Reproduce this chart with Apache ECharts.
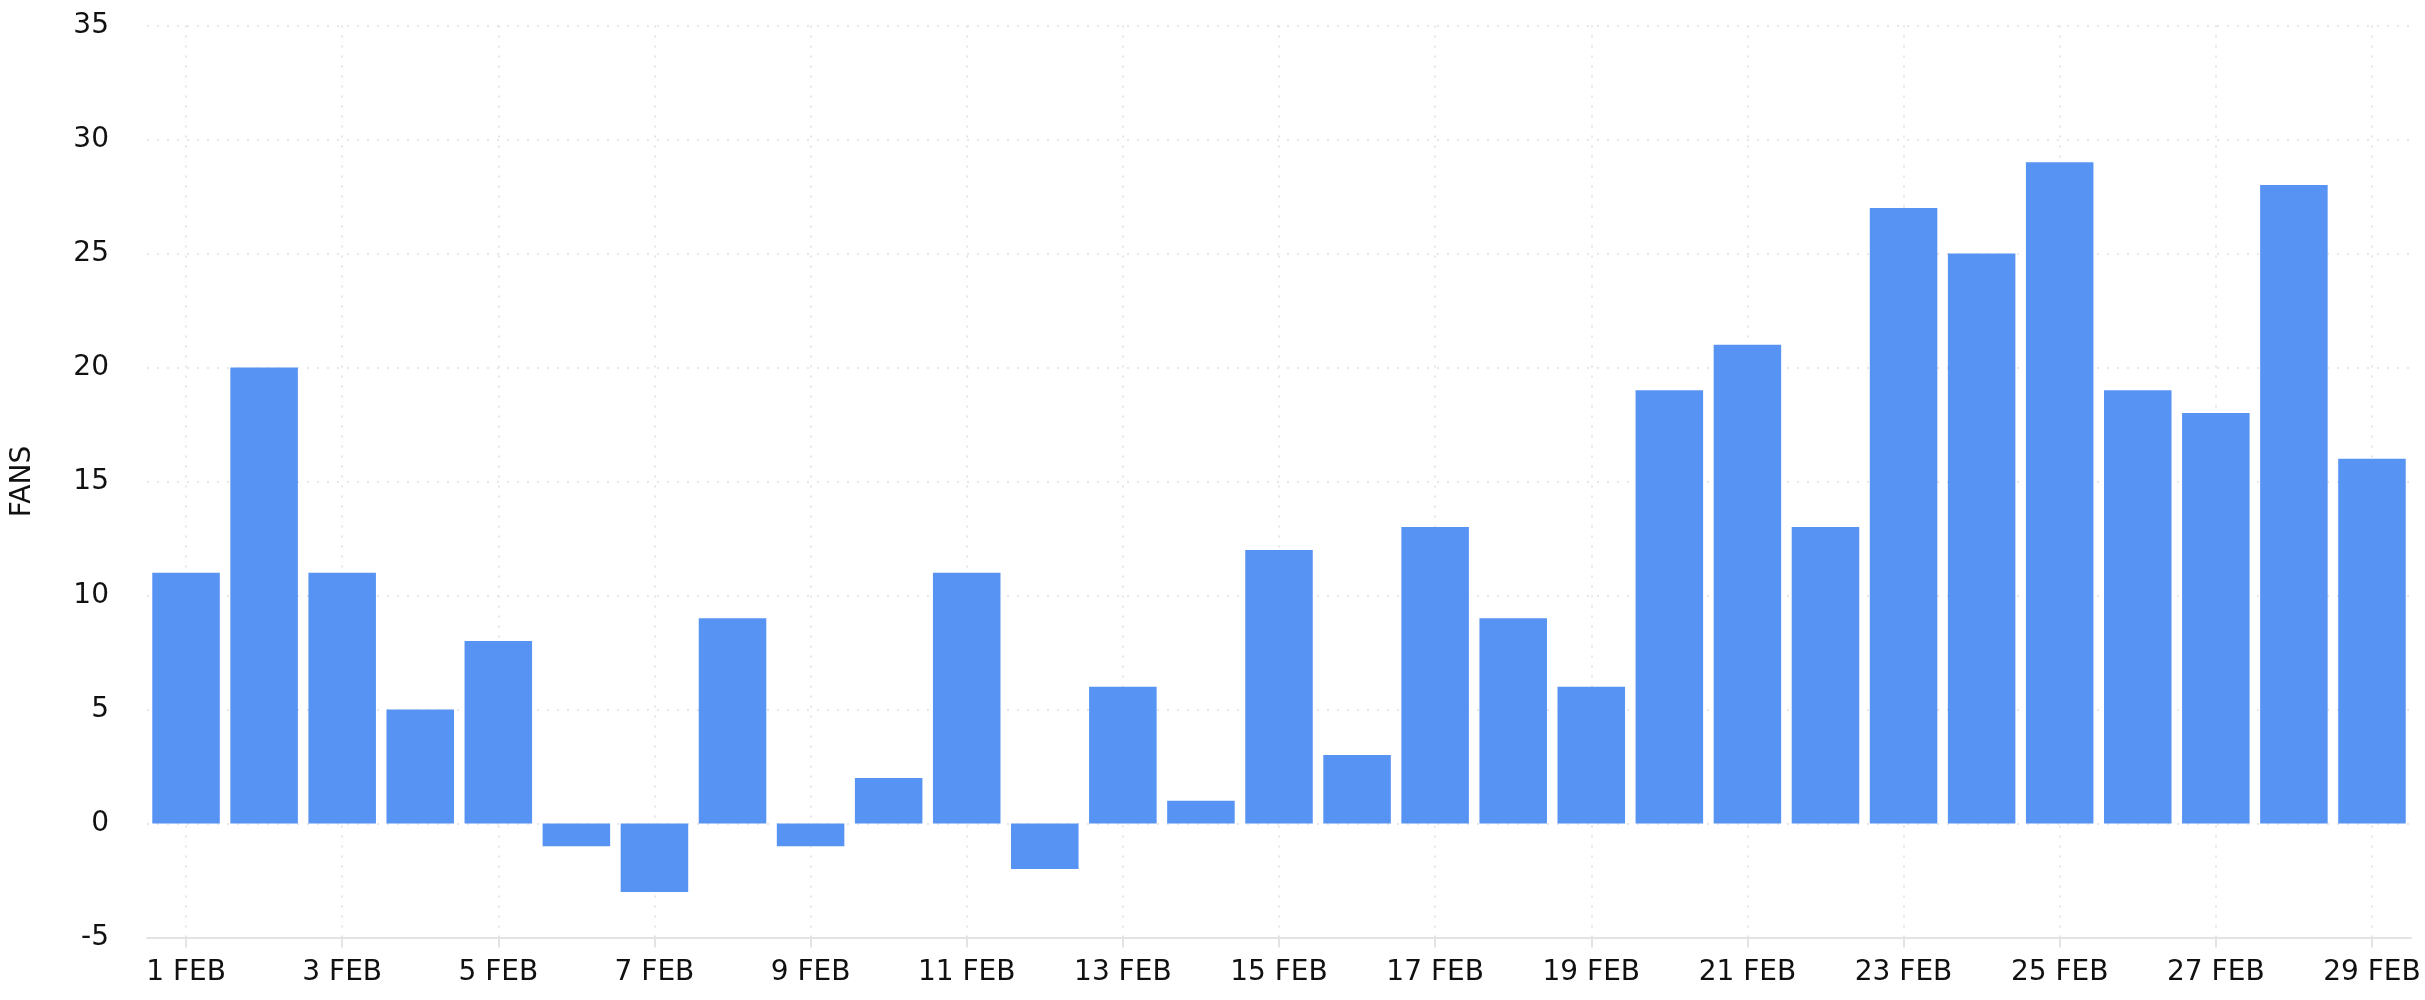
<!DOCTYPE html>
<html>
<head>
<meta charset="utf-8">
<script src="https://cdn.jsdelivr.net/npm/echarts@6/dist/echarts.min.js"></script>
<style>
html,body{margin:0;padding:0;background:#fff;}
#chart{width:2425px;height:1000px;}
</style>
</head>
<body>
<div id="chart"></div>
<script>
const categories = ['1 FEB','2 FEB','3 FEB','4 FEB','5 FEB','6 FEB','7 FEB','8 FEB','9 FEB','10 FEB',
  '11 FEB','12 FEB','13 FEB','14 FEB','15 FEB','16 FEB','17 FEB','18 FEB','19 FEB','20 FEB',
  '21 FEB','22 FEB','23 FEB','24 FEB','25 FEB','26 FEB','27 FEB','28 FEB','29 FEB'];
const fans = [11, 20, 11, 5, 8, -1, -3, 9, -1, 2, 11, -2, 6, 1, 12, 3, 13, 9, 6, 19, 21, 13, 27, 25, 29, 19, 18, 28, 16];
const yName = 'FANS';

const chart = echarts.init(document.getElementById('chart'), null, {renderer: 'canvas'});
const font = 'DejaVu Sans';
chart.setOption({
  animation: false,
  backgroundColor: '#ffffff',
  grid: {left: 147, right: 14, top: 25.5, bottom: 62.5, containLabel: false},
  xAxis: {
    type: 'category',
    data: categories,
    boundaryGap: true,
    axisLine: {show: true, onZero: false, lineStyle: {color: '#e3e3e3', width: 2}},
    axisTick: {show: true, interval: 1, alignWithLabel: true, length: 10, lineStyle: {color: '#e3e3e3', width: 2}},
    axisLabel: {interval: 1, color: '#111', fontFamily: font, fontSize: 28, margin: 21},
    splitLine: {show: true, interval: 1, alignWithLabel: true, lineStyle: {color: '#e6e6e6', type: [2, 8], width: 2}}
  },
  yAxis: {
    type: 'value',
    min: -5, max: 35, interval: 5,
    name: yName,
    nameLocation: 'middle',
    nameGap: 110,
    nameTextStyle: {color: '#111', fontFamily: font, fontSize: 28},
    axisLine: {show: false},
    axisTick: {show: false},
    axisLabel: {color: '#111', fontFamily: font, fontSize: 28, margin: 38},
    splitLine: {show: true, lineStyle: {color: '#e6e6e6', type: [2, 8], width: 2}}
  },
  series: [{
    type: 'bar',
    data: fans,
    barCategoryGap: '13.5%',
    itemStyle: {color: '#5793f3'}
  }]
});
</script>
</body>
</html>
